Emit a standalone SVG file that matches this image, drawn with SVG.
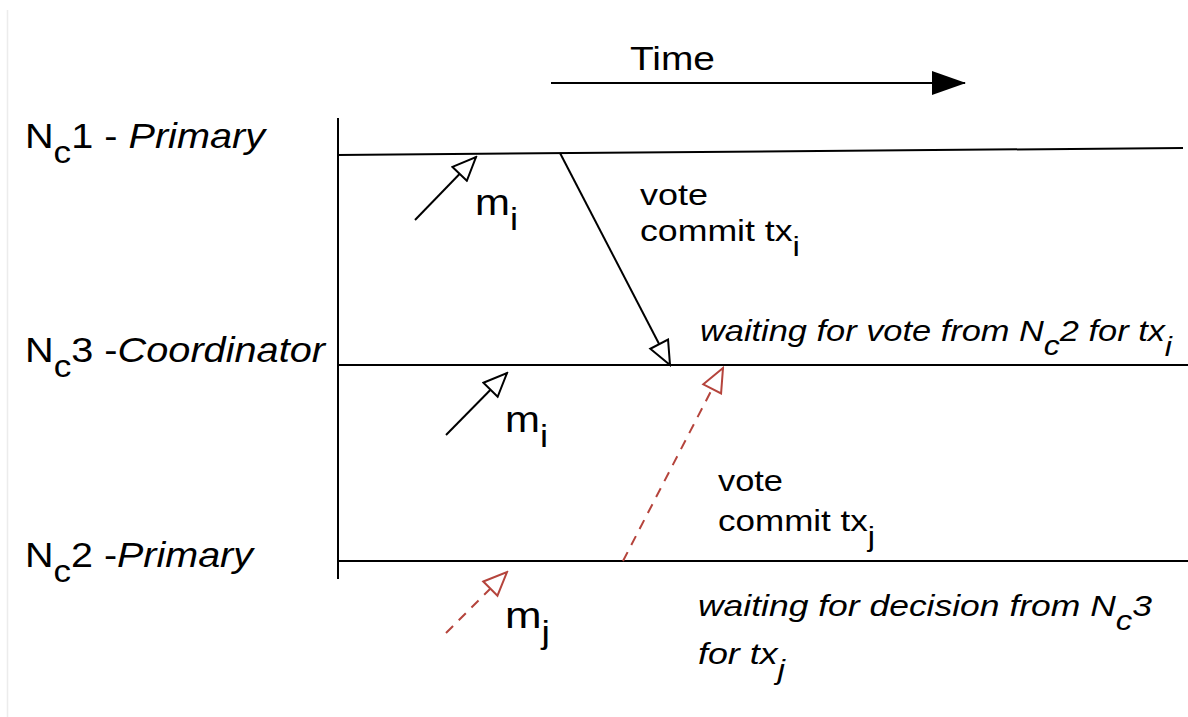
<svg xmlns="http://www.w3.org/2000/svg" width="1188" height="717" viewBox="0 0 1188 717">
<style>
text{font-family:"Liberation Sans",Arial,sans-serif;fill:#000}
.lbl{font-size:35px}
.msg{font-size:29px}
.it{font-style:italic}
.ln{stroke:#000;stroke-width:2;fill:none}
.red{stroke:#b5443c;stroke-width:2;fill:none;stroke-dasharray:10,8}
</style>
<defs>
<marker id="openB" viewBox="0 0 27 23" refX="25" refY="11.5" markerWidth="27" markerHeight="23" markerUnits="userSpaceOnUse" orient="auto">
<path d="M1.5,1.5 L25,11.5 L1.5,21.5 Z" fill="#fff" stroke="#000" stroke-width="2"/>
</marker>
<marker id="openR" viewBox="0 0 27 23" refX="25" refY="11.5" markerWidth="27" markerHeight="23" markerUnits="userSpaceOnUse" orient="auto">
<path d="M1.5,1.5 L25,11.5 L1.5,21.5 Z" fill="#fff" stroke="#b5443c" stroke-width="2"/>
</marker>
<marker id="fill" viewBox="0 0 34 24" refX="33" refY="12" markerWidth="34" markerHeight="24" markerUnits="userSpaceOnUse" orient="auto">
<path d="M0,0 L34,12 L0,24 Z" fill="#000"/>
</marker>
</defs>
<rect width="1188" height="717" fill="#fff"/>
<line x1="7.5" y1="10" x2="7.5" y2="717" stroke="#ececec" stroke-width="1.5"/>

<g id="time">
<line class="ln" x1="551" y1="83" x2="965" y2="83" marker-end="url(#fill)"/>
<text x="630" y="70" style="font-size:34px" textLength="85" lengthAdjust="spacingAndGlyphs">Time</text>
</g>

<g id="axis">
<line class="ln" x1="338" y1="118" x2="338" y2="579"/>
</g>

<g id="nc1">
<line class="ln" x1="337" y1="155" x2="1183" y2="148"/>
<text class="lbl" x="25" y="148" textLength="240" lengthAdjust="spacingAndGlyphs">N<tspan dy="15" font-size="31">c</tspan><tspan dy="-15">1 - </tspan><tspan class="it">Primary</tspan></text>
</g>

<g id="nc3">
<line class="ln" x1="337" y1="365" x2="1188" y2="365"/>
<text class="lbl" x="25" y="362" textLength="300" lengthAdjust="spacingAndGlyphs">N<tspan dy="15" font-size="31">c</tspan><tspan dy="-15">3 -</tspan><tspan class="it">Coordinator</tspan></text>
<text class="msg it" x="700" y="341" textLength="472" lengthAdjust="spacingAndGlyphs">waiting for vote from N<tspan dy="14" font-size="27">c</tspan><tspan dy="-14">2 for tx</tspan><tspan dy="15" font-size="27">i</tspan></text>
</g>

<g id="nc2">
<line class="ln" x1="337" y1="561" x2="1188" y2="561"/>
<text class="lbl" x="25" y="567" textLength="228" lengthAdjust="spacingAndGlyphs">N<tspan dy="15" font-size="31">c</tspan><tspan dy="-15">2 -</tspan><tspan class="it">Primary</tspan></text>
<text class="msg it" x="698" y="616" textLength="454" lengthAdjust="spacingAndGlyphs">waiting for decision from N<tspan dy="14" font-size="27">c</tspan><tspan dy="-14">3</tspan></text>
<text class="msg it" x="698" y="664" textLength="87" lengthAdjust="spacingAndGlyphs">for tx<tspan dy="15" font-size="27">j</tspan></text>
</g>

<g id="connectors">
<line class="ln" x1="415" y1="220" x2="476" y2="157" marker-end="url(#openB)"/>
<line class="ln" x1="560" y1="153" x2="670" y2="365" marker-end="url(#openB)"/>
<line class="ln" x1="446" y1="435" x2="507" y2="373" marker-end="url(#openB)"/>
<line class="red" x1="623" y1="561" x2="723" y2="368" marker-end="url(#openR)"/>
<line class="red" x1="446" y1="633" x2="507" y2="572" marker-end="url(#openR)"/>
</g>

<g id="labels">
<text x="475" y="215" style="font-size:37px" textLength="43" lengthAdjust="spacingAndGlyphs">m<tspan dy="15" font-size="32">i</tspan></text>
<text class="msg" x="640" y="205" textLength="68" lengthAdjust="spacingAndGlyphs">vote</text>
<text class="msg" x="640" y="241" textLength="160" lengthAdjust="spacingAndGlyphs">commit tx<tspan dy="15" font-size="27">i</tspan></text>
<text x="505" y="432" style="font-size:37px" textLength="43" lengthAdjust="spacingAndGlyphs">m<tspan dy="15" font-size="32">i</tspan></text>
<text class="msg" x="718" y="491" textLength="65" lengthAdjust="spacingAndGlyphs">vote</text>
<text class="msg" x="718" y="531" textLength="157" lengthAdjust="spacingAndGlyphs">commit tx<tspan dy="15" font-size="27">j</tspan></text>
<text x="505" y="628" style="font-size:37px" textLength="45" lengthAdjust="spacingAndGlyphs">m<tspan dy="15" font-size="32">j</tspan></text>
</g>
</svg>
